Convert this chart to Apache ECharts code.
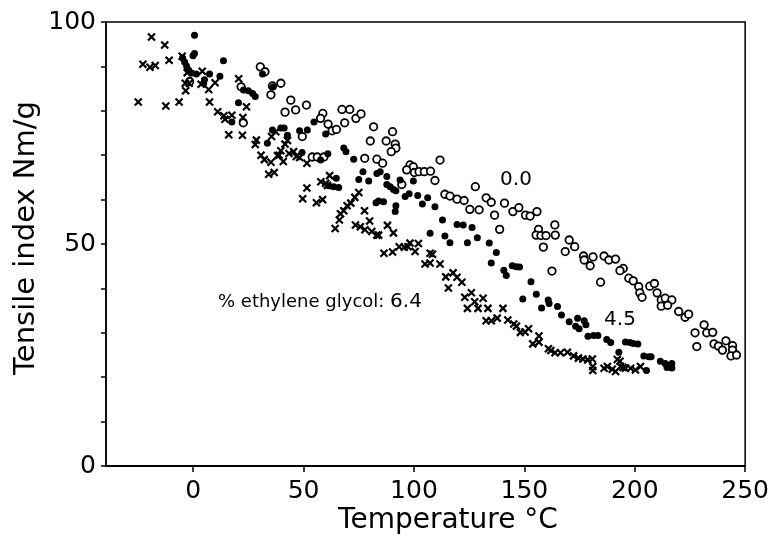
<!DOCTYPE html>
<html><head><meta charset="utf-8">
<script src="https://cdn.jsdelivr.net/npm/echarts@6/dist/echarts.min.js"></script>
<style>html,body{margin:0;padding:0;background:#fff}#c{width:772px;height:543px}</style>
</head><body><div id="c"></div>
<script>
const xTickValues = [0, 50, 100, 150, 200, 250];
const yLabelValues = [0, 50, 100];
const seriesNames = ['0.0', '4.5', '6.4'];

// 0.0 % ethylene glycol (open circles)
const glycol00 = [[-1.6,86.6],[21.7,85.4],[30.4,89.9],[32.5,88.8],[35.9,85.6],[39.7,86.2],[35.2,83.6],[44.2,82.4],[51.3,81.3],[46.4,80.2],[41.6,79.7],[22.7,77.3],[49.4,74.2],[53.9,69.6],[56.2,69.6],[59.2,69.6],[58.7,79.4],[57.7,78.3],[61.1,77.0],[62.9,75.5],[64.9,75.8],[67.4,80.3],[70.9,80.3],[68.6,77.3],[73.7,78.3],[76.0,79.3],[81.7,76.4],[80.2,73.2],[87.4,73.2],[77.7,69.3],[83.2,69.1],[85.8,68.2],[90.3,75.3],[91.5,72.5],[91.8,71.6],[89.7,70.8],[98.2,67.8],[99.7,67.4],[96.7,66.7],[100.2,66.1],[102.3,66.3],[104.7,66.3],[107.5,66.4],[94.5,63.4],[109.5,64.3],[111.8,68.9],[127.8,62.9],[114.0,61.2],[116.3,60.8],[119.5,60.1],[122.7,59.8],[125.3,57.8],[129.5,57.7],[132.7,60.4],[135.0,59.4],[141.0,59.2],[136.5,56.5],[138.8,53.3],[144.8,57.3],[147.5,58.2],[150.5,56.5],[152.6,56.3],[155.7,57.3],[156.4,53.3],[155.3,52.0],[157.5,51.9],[159.8,51.9],[163.8,54.3],[164.0,52.0],[158.6,49.3],[162.5,43.9],[170.3,50.9],[172.8,49.4],[168.5,48.3],[176.8,47.3],[177.1,46.4],[181.1,47.1],[179.8,45.1],[186.1,47.3],[188.3,46.4],[191.3,46.6],[184.5,41.4],[194.8,44.5],[193.3,44.0],[197.3,42.3],[199.3,41.7],[201.8,40.4],[202.3,39.0],[203.3,38.0],[206.8,40.5],[208.9,41.1],[210.1,39.0],[212.0,37.4],[213.8,37.8],[216.8,37.4],[212.0,36.0],[214.9,36.2],[219.9,34.8],[222.8,33.5],[224.4,34.2],[227.3,30.0],[231.4,31.8],[232.6,30.0],[235.3,30.1],[228.1,26.9],[235.9,27.5],[237.9,27.0],[239.7,26.1],[241.3,28.2],[244.3,27.1],[244.3,26.1],[243.6,24.8],[246.1,25.0]];

// 4.5 % ethylene glycol (filled dots)
const glycol45 = [[0.6,97.0],[0.6,92.9],[-0.1,92.4],[-4.8,91.9],[-3.9,91.0],[-3.0,90.1],[-2.1,89.2],[-0.7,88.5],[13.7,91.3],[1.4,88.3],[5.1,87.0],[7.4,88.3],[12.1,87.8],[4.7,86.2],[20.5,81.8],[17.5,77.5],[22.8,84.7],[25.0,84.5],[26.9,83.9],[28.1,83.2],[31.4,88.3],[36.2,85.4],[33.6,72.7],[39.7,76.1],[41.2,76.1],[42.7,74.5],[35.9,75.7],[48.2,75.5],[51.7,75.7],[54.7,77.5],[60.0,74.8],[49.3,70.6],[57.7,68.9],[61.0,70.3],[68.2,71.6],[69.2,70.8],[72.7,69.1],[64.8,64.8],[61.4,63.1],[63.7,62.9],[65.9,62.7],[76.9,66.3],[75.0,64.5],[79.5,64.2],[83.2,65.9],[84.7,66.3],[87.7,65.2],[87.7,63.4],[89.2,62.9],[90.7,62.3],[91.8,62.0],[93.7,64.4],[99.7,64.2],[82.8,59.3],[84.0,59.7],[86.2,59.5],[96.0,60.7],[97.8,61.3],[101.7,60.9],[106.2,60.4],[103.8,59.0],[109.5,58.4],[91.8,58.6],[91.5,57.3],[112.9,55.4],[107.3,52.4],[119.5,54.4],[122.3,54.3],[126.3,53.7],[114.0,51.8],[116.3,50.3],[124.2,50.3],[128.7,51.4],[134.1,50.2],[137.3,48.1],[135.0,45.7],[140.7,44.1],[141.8,42.9],[144.5,45.1],[146.3,44.9],[147.8,44.8],[153.0,41.5],[149.3,37.6],[155.4,38.7],[160.8,37.4],[161.2,36.6],[157.8,35.6],[165.0,35.9],[166.8,34.0],[170.3,32.5],[173.2,31.5],[174.8,30.9],[177.1,32.7],[177.9,31.8],[174.1,33.3],[178.8,29.2],[181.3,29.4],[183.3,29.4],[187.3,28.5],[189.1,27.8],[192.8,25.6],[195.8,27.9],[197.8,27.8],[199.3,27.6],[201.4,27.5],[204.1,24.8],[206.4,24.6],[207.4,24.6],[211.6,23.6],[213.8,23.1],[215.4,22.7],[216.8,23.1],[214.6,22.2],[216.8,22.1],[205.3,21.5]];

// 6.4 % ethylene glycol (crosses)
const glycol64 = [[-18.9,96.6],[-12.9,94.8],[-10.9,91.4],[-22.8,90.5],[-19.6,89.8],[-17.2,90.2],[-24.9,82.0],[-12.4,81.1],[-6.4,82.0],[-5.0,92.3],[-2.7,88.6],[4.1,88.9],[-3.6,86.2],[-1.8,86.2],[-3.4,84.5],[3.6,86.0],[7.0,84.8],[9.9,86.3],[7.4,82.0],[20.6,87.2],[24.1,80.9],[11.1,79.8],[13.9,78.9],[14.4,78.1],[17.5,79.0],[22.5,78.5],[16.1,74.6],[22.3,74.5],[28.6,73.4],[28.1,72.4],[30.7,70.0],[32.2,69.0],[35.2,68.4],[34.2,65.7],[36.7,66.1],[35.5,74.2],[37.4,75.3],[42.7,73.3],[41.6,72.5],[39.7,71.0],[38.9,70.0],[38.2,69.9],[40.8,68.6],[43.4,70.4],[45.5,70.8],[46.7,69.7],[48.2,69.5],[51.5,68.2],[51.5,62.6],[49.6,60.2],[55.8,59.3],[58.6,60.0],[57.8,64.0],[60.0,63.7],[61.8,65.4],[60.8,63.2],[75.0,61.6],[73.2,60.5],[71.4,59.2],[69.7,58.6],[68.2,57.5],[66.7,56.8],[66.2,55.4],[64.3,53.5],[77.6,57.5],[79.9,55.2],[73.5,54.3],[75.7,53.9],[77.8,53.2],[80.9,52.8],[83.2,52.0],[88.0,54.2],[90.7,52.5],[84.0,52.0],[86.4,47.9],[90.3,48.2],[93.3,49.4],[95.6,49.3],[97.3,49.4],[98.2,50.2],[100.5,48.3],[102.0,50.1],[107.3,47.9],[108.4,47.7],[105.0,45.5],[107.3,45.7],[111.8,45.5],[114.4,42.6],[117.7,43.5],[119.5,42.5],[121.7,41.4],[115.6,40.1],[123.0,38.0],[126.0,39.0],[127.5,37.0],[124.2,35.5],[129.0,35.5],[131.3,37.8],[133.5,35.5],[140.3,35.5],[132.7,32.7],[135.0,32.7],[137.7,33.3],[142.5,32.9],[145.2,32.0],[146.4,31.5],[148.2,30.1],[150.3,30.2],[151.9,30.9],[153.8,27.5],[156.6,27.9],[156.6,29.3],[160.9,26.4],[162.0,26.0],[163.9,25.5],[166.4,25.5],[169.5,25.6],[172.3,24.8],[174.5,24.3],[176.5,24.1],[178.7,23.9],[180.8,24.1],[181.0,22.4],[181.0,21.5],[186.1,22.0],[187.6,22.4],[189.8,21.8],[191.3,21.3],[193.3,23.6],[194.7,22.2],[195.8,22.0],[192.1,24.0],[193.6,22.4],[198.1,22.0],[200.3,21.6],[202.6,22.4]];

const FAM = "'DejaVu Sans', sans-serif";
const chart = echarts.init(document.getElementById('c'), null, {renderer: 'canvas'});
chart.setOption({
  animation: false,
  backgroundColor: '#fff',
  grid: {left: 106, right: 24, top: 22, bottom: 77, show: true, borderColor: '#000', borderWidth: 1.5, backgroundColor: 'transparent'},
  xAxis: {
    type: 'value', min: -39.5, max: 250,
    axisLine: {show: true, onZero: false, lineStyle: {color: '#000', width: 2}},
    axisTick: {show: true, customValues: xTickValues, length: 6, lineStyle: {color: '#000', width: 1.5}},
    axisLabel: {customValues: xTickValues, color: '#000', fontFamily: FAM, fontSize: 25, margin: 13},
    splitLine: {show: false}
  },
  yAxis: {
    type: 'value', min: 0, max: 100, interval: 10,
    axisLine: {show: true, onZero: false, lineStyle: {color: '#000', width: 1.5}},
    axisTick: {show: true, length: 5, lineStyle: {color: '#000', width: 1.5}},
    axisLabel: {color: '#000', fontFamily: FAM, fontSize: 25, margin: 10,
      formatter: v => yLabelValues.indexOf(v) >= 0 ? String(v) : ''},
    splitLine: {show: false}
  },
  graphic: [
    {type: 'text', x: 26, y: 238, rotation: Math.PI / 2,
     style: {text: 'Tensile index Nm/g', font: "29px " + FAM, fill: '#000', align: 'center', verticalAlign: 'middle'}},
    {type: 'text', x: 448, y: 521,
     style: {text: 'Temperature \u00B0C', font: "28px " + FAM, fill: '#000', align: 'center', verticalAlign: 'middle'}},
    {type: 'text', x: 516, y: 180,
     style: {text: '0.0', font: "20px " + FAM, fill: '#000', align: 'center', verticalAlign: 'middle'}},
    {type: 'text', x: 620, y: 320,
     style: {text: '4.5', font: "20px " + FAM, fill: '#000', align: 'center', verticalAlign: 'middle'}},
    {type: 'text', x: 218, y: 302,
     style: {text: '% ethylene glycol: {b|6.4}', font: "18px " + FAM, fill: '#000', align: 'left', verticalAlign: 'middle',
       rich: {b: {font: "20px " + FAM, fill: '#000'}}}}
  ],
  series: [
    {name: seriesNames[0], type: 'scatter', data: glycol00, symbol: 'circle', symbolSize: 7.5,
     itemStyle: {color: '#fff', borderColor: '#000', borderWidth: 1.8, opacity: 1}, z: 3},
    {name: seriesNames[1], type: 'scatter', data: glycol45, symbol: 'circle', symbolSize: 7,
     itemStyle: {color: '#000', borderColor: '#000', borderWidth: 0, opacity: 1}, z: 4},
    {name: seriesNames[2], type: 'scatter', data: glycol64, symbol: 'path://M0,0L10,10M0,10L10,0', symbolSize: 7,
     itemStyle: {color: '#000', borderColor: '#000', borderWidth: 2.2, opacity: 1}, z: 5}
  ]
});
</script>
</body></html>
